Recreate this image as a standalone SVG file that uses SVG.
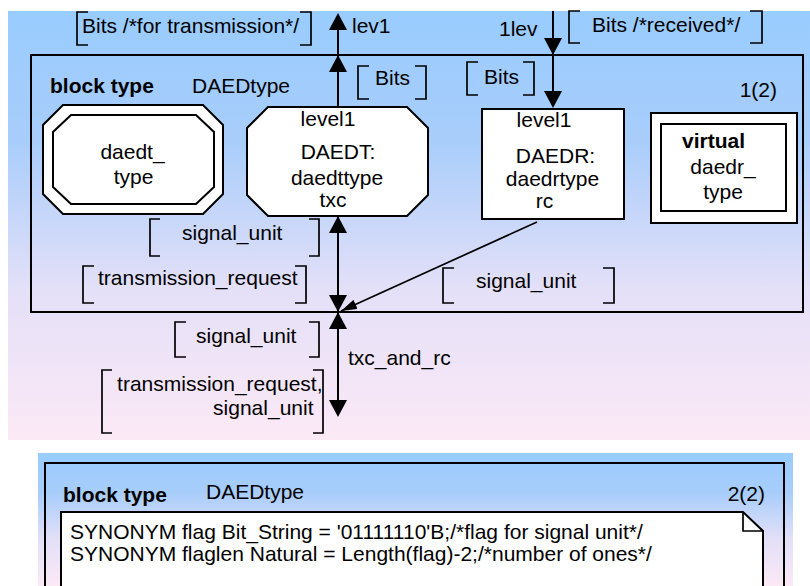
<svg xmlns="http://www.w3.org/2000/svg" width="810" height="586" viewBox="0 0 810 586">
<defs>
<linearGradient id="bg" x1="0" y1="0" x2="0" y2="1">
<stop offset="0" stop-color="#99ccff"/>
<stop offset="0.3" stop-color="#a8cdfb"/>
<stop offset="0.65" stop-color="#e4e0f8"/>
<stop offset="1" stop-color="#fce9f6"/>
</linearGradient>
<path id="ah" d="M0,0 L-9,17 L9,17 Z"/>
<marker id="sm" viewBox="0 0 16 10" refX="16" refY="5" markerWidth="16" markerHeight="10" markerUnits="userSpaceOnUse" orient="auto">
<path d="M0,0 L16,5 L0,10 Z" fill="#000"/>
</marker>
<style>
.t{font-family:"Liberation Sans",Arial,sans-serif;font-size:21px;fill:#000}
.b{font-weight:bold}
.m{text-anchor:middle}
.e{text-anchor:end}
.fr{fill:none;stroke:#000;stroke-width:2}
.nd{fill:#fff;stroke:#000;stroke-width:2}
.br{fill:none;stroke:#000;stroke-width:1.7}
.ln{fill:none;stroke:#000;stroke-width:2}
.ah{fill:#000}
</style>
</defs>

<rect x="8" y="11" width="802" height="429" fill="url(#bg)"/>
<rect x="38" y="453" width="755" height="133" fill="url(#bg)"/>

<g id="frame1">
<rect class="fr" x="31" y="55" width="772" height="257"/>
<text class="t b" x="50" y="93">block type</text>
<text class="t" x="192" y="93">DAEDtype</text>
<text class="t e" x="777" y="97">1(2)</text>
</g>

<g id="daedt_type">
<path class="nd" d="M63,105 H203 L223,125 V194 L203,214 H63 L43,194 V125 Z"/>
<path class="nd" d="M71,115 H196 L214,132 V187 L196,204 H71 L53,187 V132 Z"/>
<text class="t m" x="132.5" y="159">daedt_</text>
<text class="t m" x="133.5" y="184">type</text>
</g>

<g id="txc">
<path class="nd" d="M268,107 H407 L428,128 V195 L407,216 H268 L247,195 V128 Z"/>
<text class="t m" x="328" y="126">level1</text>
<text class="t m" x="338" y="159">DAEDT:</text>
<text class="t m" x="337" y="185">daedttype</text>
<text class="t m" x="333" y="207">txc</text>
</g>

<g id="rc">
<rect class="nd" x="482" y="109" width="142" height="110"/>
<text class="t m" x="544" y="127">level1</text>
<text class="t m" x="555.5" y="163">DAEDR:</text>
<text class="t m" x="552.5" y="186">daedrtype</text>
<text class="t m" x="544.5" y="208">rc</text>
</g>

<g id="daedr_type">
<rect class="nd" x="651" y="113" width="146" height="110"/>
<rect class="nd" x="661" y="124" width="125" height="87"/>
<text class="t b" x="682" y="148">virtual</text>
<text class="t m" x="723" y="174">daedr_</text>
<text class="t m" x="723" y="199">type</text>
</g>

<g id="connectors">
<line class="ln" x1="338" y1="107" x2="338" y2="20"/>
<use href="#ah" class="ah" transform="translate(338,13)"/>
<use href="#ah" class="ah" transform="translate(338,55)"/>
<text class="t" x="352" y="33">lev1</text>

<line class="ln" x1="553" y1="11" x2="553" y2="100"/>
<use href="#ah" class="ah" transform="translate(553,55) rotate(180)"/>
<use href="#ah" class="ah" transform="translate(553,108) rotate(180)"/>
<text class="t" x="499" y="36">1lev</text>

<line class="ln" x1="338" y1="216" x2="338" y2="410"/>
<use href="#ah" class="ah" transform="translate(338,216)"/>
<use href="#ah" class="ah" transform="translate(338,312) rotate(180)"/>
<use href="#ah" class="ah" transform="translate(338,312)"/>
<use href="#ah" class="ah" transform="translate(338,417) rotate(180)"/>
<text class="t" x="348" y="365">txc_and_rc</text>

<line x1="537" y1="222" x2="341" y2="311" stroke="#000" stroke-width="1.7" marker-end="url(#sm)"/>

<path class="br" d="M88,12 H77 V45 H88 M300,12 H311 V45 H300"/>
<text class="t" x="82" y="33">Bits /*for transmission*/</text>

<path class="br" d="M580,11 H569 V43 H580 M750,11 H762 V43 H750"/>
<text class="t" x="592" y="32">Bits /*received*/</text>

<path class="br" d="M369,66 H358 V99 H369 M415,66 H426 V99 H415"/>
<text class="t" x="375" y="85">Bits</text>

<path class="br" d="M478,62 H467 V95 H478 M523,62 H534 V95 H523"/>
<text class="t" x="484" y="84">Bits</text>

<path class="br" d="M160,219 H150 V256 H160 M309,219 H319 V256 H309"/>
<text class="t" x="182" y="240">signal_unit</text>

<path class="br" d="M94,266 H83 V303 H94 M295,266 H306 V303 H295"/>
<text class="t" x="98" y="285">transmission_request</text>

<path class="br" d="M454,268 H443 V303 H454 M603,268 H614 V303 H603"/>
<text class="t" x="476" y="288">signal_unit</text>

<path class="br" d="M186,322 H175 V357 H186 M309,322 H319 V357 H309"/>
<text class="t" x="196" y="343">signal_unit</text>

<path class="br" d="M112,370 H102 V433 H112 M313,370 H323 V433 H313"/>
<text class="t e" x="322.5" y="391">transmission_request,</text>
<text class="t e" x="313.5" y="415">signal_unit</text>
</g>

<g id="frame2">
<rect class="fr" x="45" y="463" width="739" height="140"/>
<text class="t b" x="63" y="502">block type</text>
<text class="t" x="206" y="499">DAEDtype</text>
<text class="t e" x="765" y="501">2(2)</text>
</g>

<g id="text_symbol">
<path class="nd" d="M61,512 H743 L763,531 V600 H61 Z"/>
<path class="br" d="M743,512 V531 H763"/>
<text class="t" x="70" y="539">SYNONYM flag Bit_String = '01111110'B;/*flag for signal unit*/</text>
<text class="t" x="70" y="561">SYNONYM flaglen Natural = Length(flag)-2;/*number of ones*/</text>
</g>
</svg>
